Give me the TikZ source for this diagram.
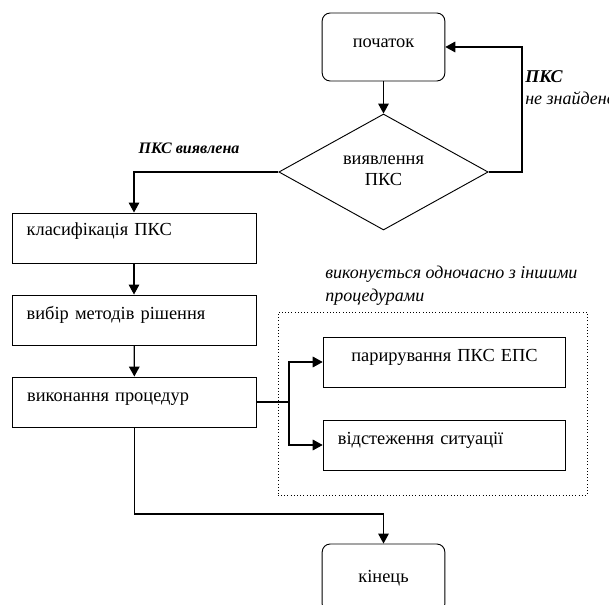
\documentclass[tikz,border=0pt]{standalone}
\usepackage{fontspec}
\setmainfont{Liberation Serif}
\usetikzlibrary{shapes.geometric,arrows.meta}

\begin{document}
\begin{tikzpicture}[x=0.75pt, y=-0.75pt,
    font=\fontsize{13.8}{16}\selectfont,
    term/.style = {draw, rounded corners=6pt, minimum width=92pt, minimum height=51pt, line width=0.7pt},
    cond/.style = {draw, diamond, minimum width=157pt, minimum height=87pt, inner sep=0pt, align=center, line width=0.7pt},
    proc/.style = {draw, minimum width=183pt, minimum height=37.5pt, text width=161pt, inner xsep=11pt, text height=10pt, text depth=11pt, align=left, line width=0.7pt},
    side/.style = {draw, minimum width=182pt, minimum height=37.5pt, text width=160pt, inner xsep=11pt, text height=10pt, text depth=11pt, line width=0.7pt},
    note/.style = {font=\fontsize{13.5}{17}\selectfont\itshape, align=left},
    arr/.style = {-{Triangle[length=7.5pt, width=8pt]}, line width=0.9pt}]
        \clip (0,0) rectangle (609,605);
        \node[term, text depth=6pt] (start) at (383.5,47) {початок};
        \node[cond] (detect) at (383.5,172) {\raisebox{2pt}{виявлення}\\\raisebox{2pt}{ПКС}};
        \node[proc, text depth=14pt] (classify) at (134,238) {класифікація ПКС};
        \node[proc] (choose) at (134,320) {вибір методів рішення};
        \node[proc] (exec) at (134.5,402) {виконання процедур};
        \node[draw, dotted, minimum width=232pt, minimum height=137pt] (frame) at (432.5,403.5) {};
        \node[side, align=center] (parry) at (444.5,362) {парирування ПКС ЕПС};
        \node[side, align=left] (track) at (444.5,445) {відстеження ситуації};
        \node[note, anchor=north west, inner sep=0pt] (paral) at (325,266) {виконується одночасно з іншими\\процедурами};
        \node[term] (finish) at (383.5,578) {кінець};
        \node[font=\fontsize{12}{14}\selectfont\bfseries\itshape] (found) at (189,148) {ПКС виявлена};
        \node[note, anchor=north west, inner sep=0pt] (notfound) at (525,70) {\textbf{ПКС}\\не знайдено};
        \coordinate (loopr) at (522,172);
        \coordinate (split) at (289,402);
        \coordinate (endbend) at (383.5,514);
        \draw [arr] (start) -- (detect);
        \draw [arr] (detect.east) -- (loopr) |- (start.east);
        \draw [arr] (detect.west) -| (classify.north);
        \draw [arr] (classify) -- (choose);
        \draw [arr] (choose) -- (exec);
        \draw [line width=0.9pt] (exec.east) -- (split);
        \draw [arr] (split) |- (parry.west);
        \draw [arr] (split) |- (track.west);
        \draw [arr] (exec.south) |- (endbend) -- (finish.north);
    \end{tikzpicture}
\end{document}
